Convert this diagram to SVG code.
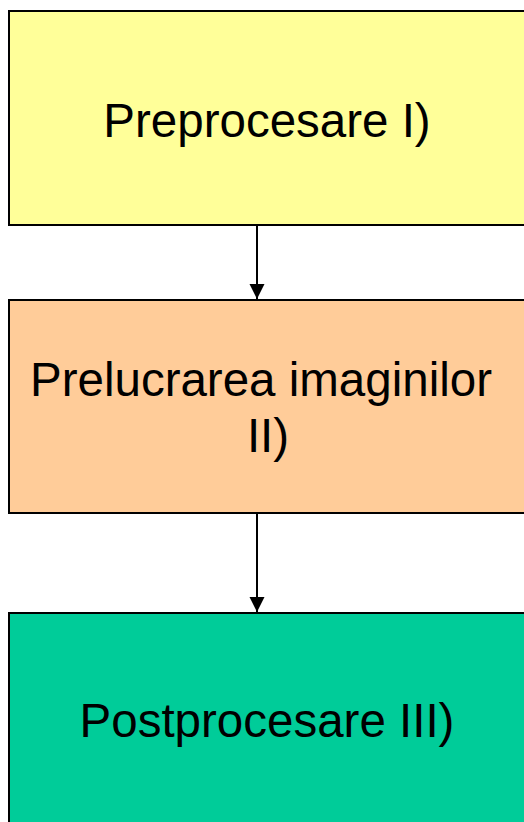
<svg xmlns="http://www.w3.org/2000/svg" width="524" height="822" viewBox="0 0 524 822">
<style>
.box{stroke:#000;stroke-width:2}
.t{font-family:"Liberation Sans",Arial,sans-serif;font-size:47.5px;fill:#000}
.c{stroke:#000;stroke-width:2;fill:none}
</style>
<defs>
<marker id="ah" markerUnits="userSpaceOnUse" markerWidth="16" markerHeight="16" refX="15" refY="7.5" orient="auto">
<path d="M0,0 L15,7.5 L0,15 Z" fill="#000"/>
</marker>
</defs>
<rect width="524" height="822" fill="#fff"/>
<g id="connectors">
<line class="c" x1="257" y1="226" x2="257" y2="299" marker-end="url(#ah)"/>
<line class="c" x1="257" y1="514" x2="257" y2="612" marker-end="url(#ah)"/>
</g>
<g id="node1">
<rect class="box" x="9" y="11" width="518" height="214" fill="#FFFF99"/>
<text class="t" x="267" y="137" text-anchor="middle">Preprocesare I)</text>
</g>
<g id="node2">
<rect class="box" x="9" y="300" width="518" height="213" fill="#FFCC99"/>
<text class="t" x="261" y="396" text-anchor="middle">Prelucrarea imaginilor</text>
<text class="t" x="268" y="452" text-anchor="middle">II)</text>
</g>
<g id="node3">
<rect class="box" x="9" y="613" width="518" height="220" fill="#00CC99"/>
<text class="t" x="267" y="737" text-anchor="middle">Postprocesare III)</text>
</g>
</svg>
